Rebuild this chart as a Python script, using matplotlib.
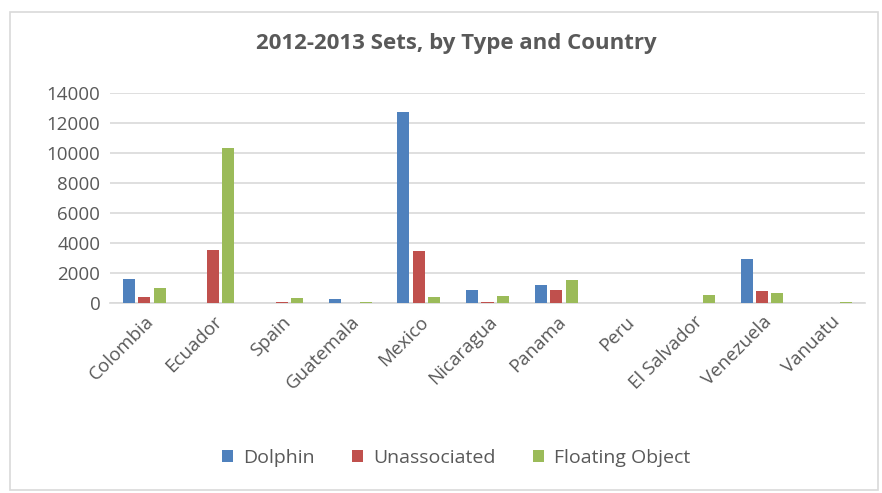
import matplotlib
matplotlib.use("Agg")
import matplotlib.pyplot as plt
import numpy as np
from matplotlib.patches import Rectangle

countries = ["Colombia", "Ecuador", "Spain", "Guatemala", "Mexico", "Nicaragua",
             "Panama", "Peru", "El Salvador", "Venezuela", "Vanuatu"]
dolphin = [1600, 20, 0, 290, 12700, 900, 1200, 10, 0, 2950, 0]
unassociated = [420, 3550, 90, 10, 3450, 60, 900, 0, 30, 800, 0]
floating = [1020, 10350, 310, 60, 370, 490, 1510, 0, 550, 690, 100]
series_names = ["Dolphin", "Unassociated", "Floating Object"]
colors = ["#4F81BD", "#C0504D", "#9BBB59"]
yticks = [0, 2000, 4000, 6000, 8000, 10000, 12000, 14000]

plt.rcParams['font.family'] = ['Open Sans', 'DejaVu Sans']
fig = plt.figure(figsize=(8.82, 4.93), dpi=100)
ax = fig.add_axes([110/882, 1-303/493, (865-110)/882, (303-93)/493])

x = np.arange(len(countries))
w = 0.175
step = 0.225
for i, (vals, name, c) in enumerate(zip([dolphin, unassociated, floating], series_names, colors)):
    ax.bar(x + (i-1)*step, vals, width=w, color=c, label=name, zorder=3)

ax.set_xlim(-0.5, len(countries)-0.5)
ax.set_ylim(0, 14000)
ax.set_yticks(yticks)
ax.set_yticklabels([str(v) for v in yticks], fontsize=13.5, color="#595959")
ax.set_xticks(x)
ax.set_xticklabels(countries, rotation=45, ha="right", rotation_mode="anchor",
                   fontsize=13.5, color="#595959")
ax.tick_params(axis="both", length=0, pad=7)
ax.grid(axis="y", color="#D9D9D9", linewidth=1.2, zorder=0)
for s in ["top", "right", "left"]:
    ax.spines[s].set_visible(False)
ax.spines["bottom"].set_color("#D9D9D9")
ax.spines["bottom"].set_linewidth(1.2)

fig.text(456/882, 1-44/493, "2012-2013 Sets, by Type and Country", ha="center", va="center",
         fontsize=16, fontweight="bold", color="#595959")

leg = fig.legend(loc="center", bbox_to_anchor=(456/882, 1-458/493), ncol=3, frameon=False,
                 fontsize=14, handlelength=0.6, handleheight=0.6, columnspacing=1.9,
                 handletextpad=0.5)
for t in leg.get_texts():
    t.set_color("#595959")

fig.patches.append(Rectangle((10/882, 3/493), 868/882, 478/493, transform=fig.transFigure,
                             fill=False, edgecolor="#D9D9D9", linewidth=1.2))

fig.savefig("out.png", dpi=100)
